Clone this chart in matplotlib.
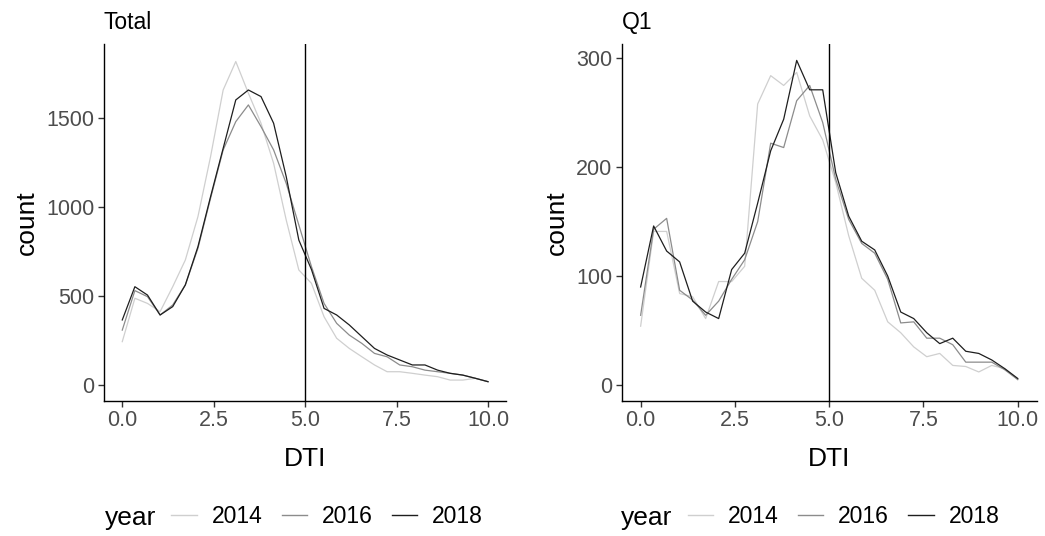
import numpy as np
import matplotlib
matplotlib.use("Agg")
import matplotlib.pyplot as plt
from matplotlib.lines import Line2D

plt.rcParams["font.family"] = ["Liberation Sans", "DejaVu Sans"]

# DTI bin centres (30 bins from 0 to 10)
dti = np.linspace(0, 10, 30)
years = ["2014", "2016", "2018"]
year_colors = ["#cfcfcf", "#8c8c8c", "#1e1e1e"]

# Total
total_2014 = [244, 488, 459, 413, 553, 703, 947, 1284, 1659, 1819,
              1641, 1472, 1247, 928, 647, 572, 384, 263, 206, 159,
              113, 75, 75, 66, 56, 47, 28, 28, 38, 19]
total_2016 = [309, 531, 497, 394, 450, 563, 769, 1050, 1322, 1481,
              1575, 1453, 1322, 1134, 900, 666, 459, 347, 281, 234,
              178, 159, 113, 103, 84, 75, 66, 56, 38, 19]
total_2018 = [366, 553, 506, 394, 441, 563, 778, 1059, 1331, 1603,
              1659, 1622, 1472, 1172, 815, 650, 431, 394, 338, 272,
              206, 169, 141, 113, 113, 84, 66, 56, 38, 19]

# Q1
q1_2014 = [54, 141, 141, 84, 81, 61, 95, 95, 109, 258,
           284, 275, 287, 247, 225, 186, 137, 98, 87, 58,
           48, 35, 26, 29, 18, 17, 12, 18, 15, 5]
q1_2016 = [64, 143, 153, 87, 78, 64, 77, 97, 115, 150,
           222, 218, 261, 275, 241, 189, 152, 130, 121, 97,
           57, 58, 43, 43, 37, 21, 21, 21, 14, 5]
q1_2018 = [90, 146, 123, 113, 77, 67, 61, 106, 121, 167,
           215, 244, 298, 271, 271, 195, 155, 132, 124, 100,
           67, 61, 48, 38, 43, 31, 29, 23, 15, 6]

panels = [
    ("Total", [total_2014, total_2016, total_2018], [0, 500, 1000, 1500], (-88, 1916)),
    ("Q1", [q1_2014, q1_2016, q1_2018], [0, 100, 200, 300], (-14.4, 312.8)),
]

fig = plt.figure(figsize=(10.45, 5.36), dpi=100)
axes_pos = [[0.0995, 0.2524, 0.385, 0.6650],
            [0.595, 0.2524, 0.397, 0.6650]]
legend_x = [0.100, 0.594]

for (title, series, yticks, ylim), pos, lx in zip(panels, axes_pos, legend_x):
    ax = fig.add_axes(pos)
    for vals, c in zip(series, year_colors):
        ax.plot(dti, vals, color=c, lw=0.9)
    ax.axvline(5, color="black", lw=1.0)
    ax.set_xlim(-0.5, 10.5)
    ax.set_ylim(*ylim)
    ax.set_xticks([0, 2.5, 5, 7.5, 10])
    ax.set_xticklabels(["0.0", "2.5", "5.0", "7.5", "10.0"])
    ax.set_yticks(yticks)
    for s in ["top", "right"]:
        ax.spines[s].set_visible(False)
    for s in ["left", "bottom"]:
        ax.spines[s].set_linewidth(1.0)
    ax.tick_params(labelsize=15.5, labelcolor="#4d4d4d", color="#333333",
                   length=4, width=1.0, pad=3)
    ax.set_xlabel("DTI", fontsize=19, labelpad=11)
    ax.set_ylabel("count", fontsize=19, labelpad=5)
    ax.set_title(title, loc="left", fontsize=16.5, pad=11)

    # legend at bottom
    fig.text(lx, 0.034, "year", fontsize=19, va="center", ha="left")
    handles = [Line2D([], [], color=c, lw=1.0) for c in year_colors]
    fig.legend(handles, years, ncol=3, frameon=False, fontsize=16.5,
               loc="center left", bbox_to_anchor=(lx + 0.064, 0.036),
               handlelength=1.1, handletextpad=0.65, columnspacing=0.85,
               borderaxespad=0, borderpad=0)

fig.savefig("out.png", dpi=100)
